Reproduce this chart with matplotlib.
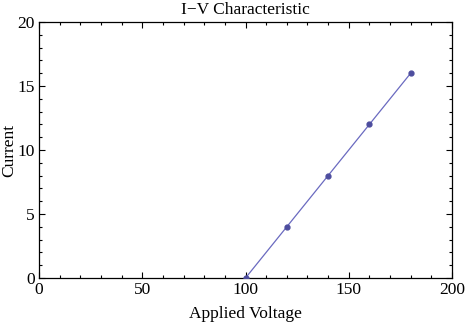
import matplotlib
matplotlib.use("Agg")
import matplotlib.pyplot as plt
from matplotlib.ticker import MultipleLocator

voltage = [100, 120, 140, 160, 180]
current = [0, 4, 8, 12, 16]
x_ticks = [0, 50, 100, 150, 200]
y_ticks = [0, 5, 10, 15, 20]

plt.rcParams['font.family'] = ['Liberation Serif', 'DejaVu Serif']

fig = plt.figure(figsize=(4.76, 3.22), dpi=100)
ax = fig.add_axes([39/476, 1-278/322, (452-39)/476, (278-22)/322])
ax.plot(voltage, current, color='#6a6ac0', lw=0.9, zorder=2)
ax.plot(voltage, current, 'o', color='#4d4d9e', ms=3.5, zorder=3)
ax.set_xlim(0, 200)
ax.set_ylim(0, 20)
ax.set_xticks(x_ticks)
ax.set_yticks(y_ticks)
ax.xaxis.set_minor_locator(MultipleLocator(10))
ax.yaxis.set_minor_locator(MultipleLocator(1))
ax.tick_params(which='both', direction='in', top=True, right=True, labelsize=12.5, width=0.8)
ax.tick_params(which='major', length=4)
ax.tick_params(which='minor', length=2)
ax.tick_params(axis='x', pad=3)
ax.tick_params(axis='y', pad=3)
for s in ax.spines.values():
    s.set_linewidth(0.9)
ax.set_title('I\u2212V Characteristic', fontsize=12.5, pad=6)
ax.set_xlabel('Applied Voltage', fontsize=12.5, labelpad=6)
ax.set_ylabel('Current', fontsize=12.5)
ax.yaxis.set_label_coords(-0.053, 0.5)
fig.savefig('out.png', dpi=100)
